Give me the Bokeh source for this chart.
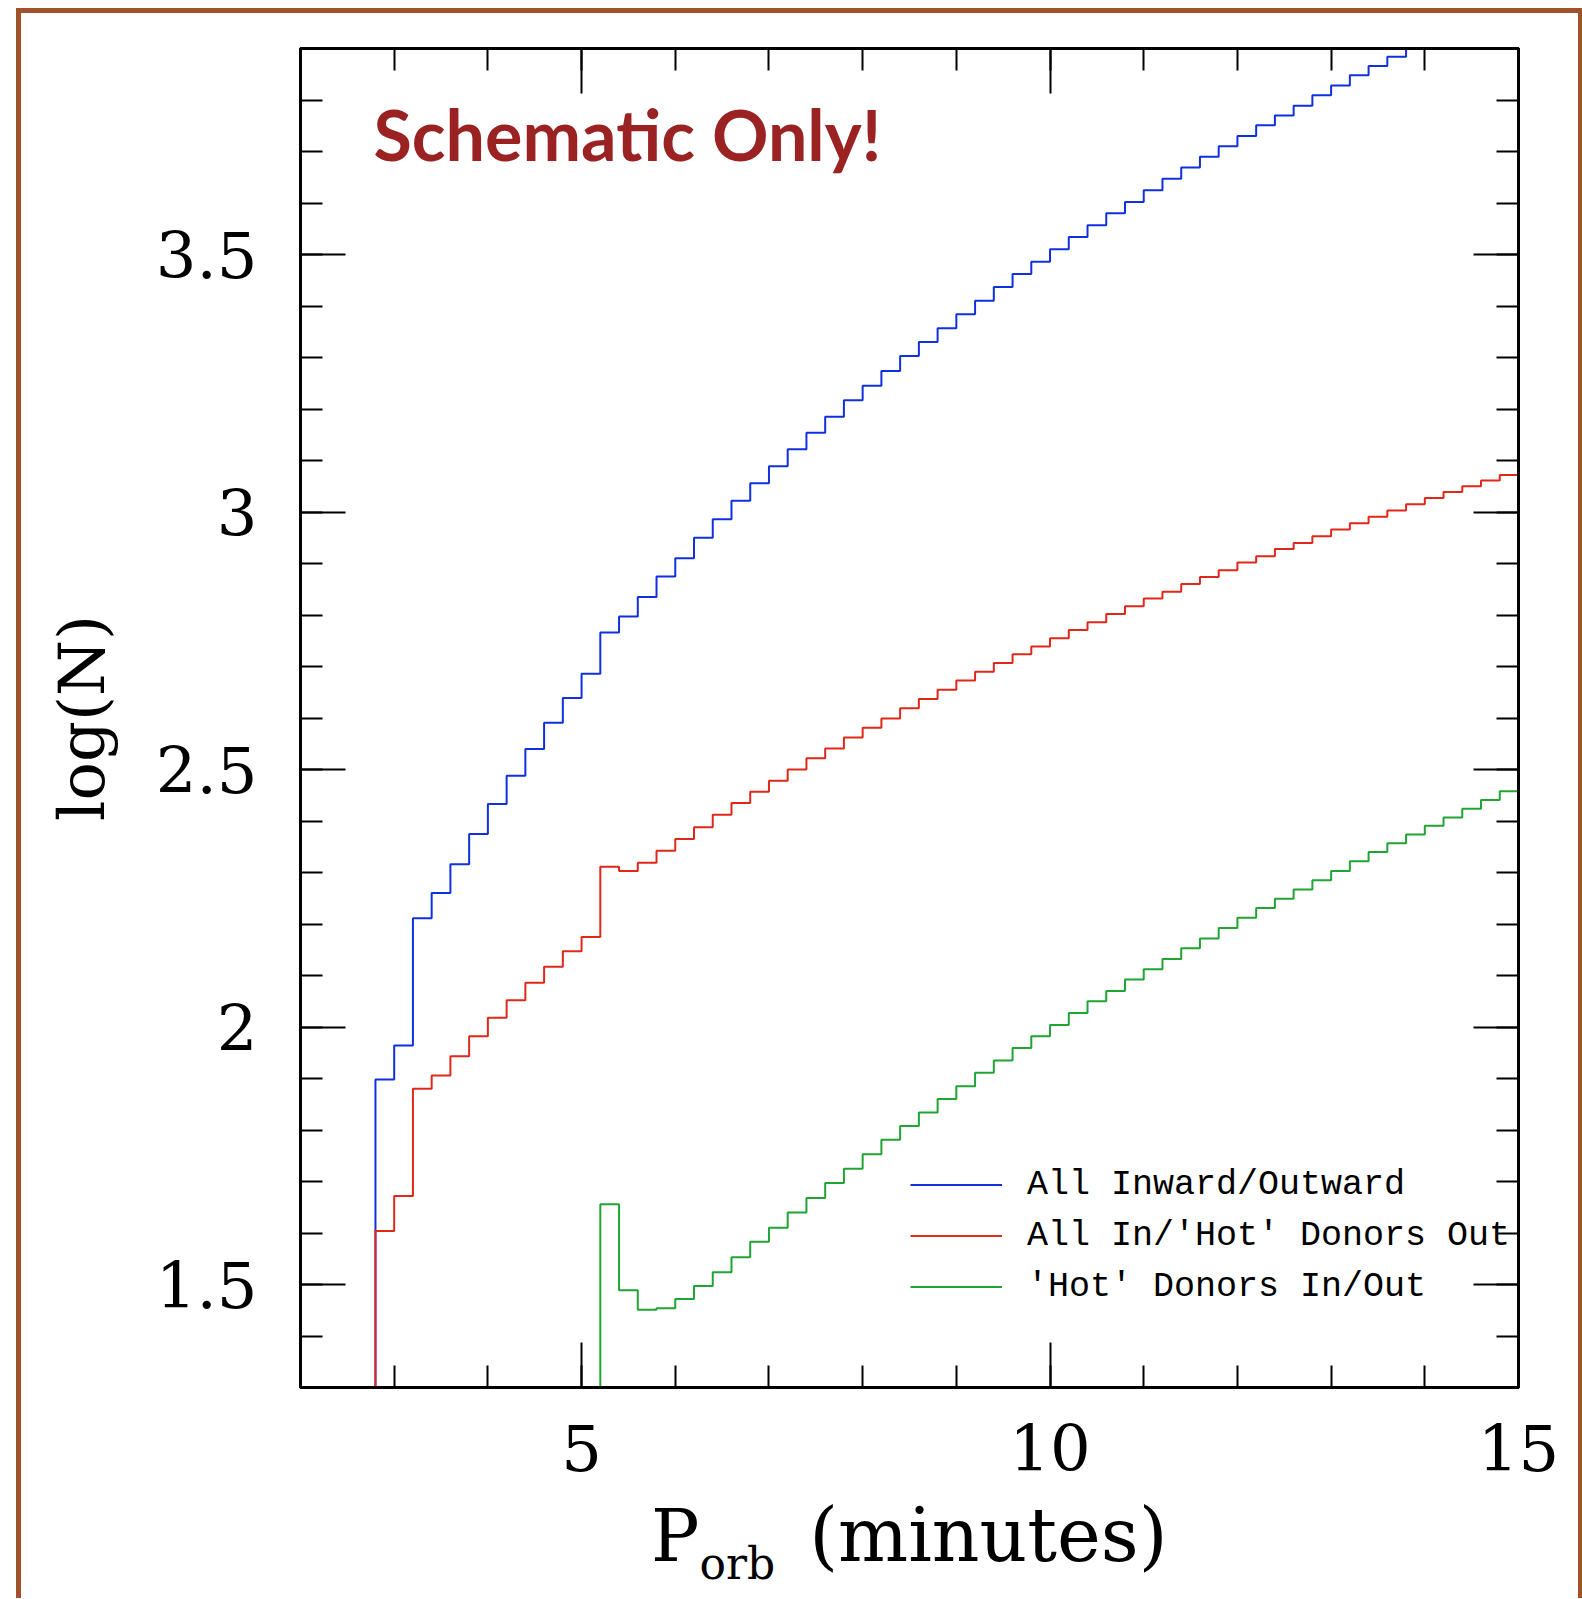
from bokeh.plotting import figure
from bokeh.layouts import column
from bokeh.models import (Range1d, LinearAxis, FixedTicker, Label, Legend, LegendItem,
                          CustomJSTickFormatter, Div)
from bokeh.embed import file_html
from bokeh.resources import INLINE

# ---------------- data ----------------
bin_width = 0.2  # minutes

blue_start = 2.8
blue_logN = [1.898, 1.964, 2.211, 2.260, 2.316, 2.375, 2.433, 2.488, 2.540, 2.591,
             2.639, 2.686, 2.766, 2.797, 2.835, 2.875, 2.910, 2.950, 2.986, 3.022,
             3.056, 3.089, 3.122, 3.154, 3.185, 3.217, 3.245, 3.274, 3.303, 3.330,
             3.357, 3.384, 3.410, 3.437, 3.462, 3.486, 3.510, 3.534, 3.557, 3.580,
             3.602, 3.625, 3.647, 3.669, 3.690, 3.710, 3.730, 3.751, 3.770, 3.789,
             3.809, 3.828, 3.848, 3.866, 3.884, 3.903]

red_start = 2.8
red_logN = [1.604, 1.672, 1.880, 1.906, 1.943, 1.982, 2.018, 2.052, 2.086, 2.117,
            2.147, 2.175, 2.311, 2.303, 2.319, 2.342, 2.365, 2.388, 2.412, 2.435,
            2.457, 2.478, 2.500, 2.522, 2.541, 2.562, 2.581, 2.599, 2.619, 2.637,
            2.655, 2.673, 2.690, 2.707, 2.724, 2.739, 2.755, 2.771, 2.786, 2.802,
            2.817, 2.832, 2.845, 2.860, 2.874, 2.887, 2.902, 2.914, 2.928, 2.940,
            2.953, 2.966, 2.978, 2.991, 3.003, 3.015, 3.027, 3.039, 3.050, 3.061,
            3.072]

green_start = 5.2
green_logN = [1.656, 1.489, 1.451, 1.454, 1.472, 1.497, 1.524, 1.553, 1.583, 1.610,
              1.640, 1.668, 1.697, 1.725, 1.753, 1.781, 1.808, 1.834, 1.860, 1.885,
              1.911, 1.935, 1.959, 1.982, 2.004, 2.027, 2.050, 2.070, 2.092, 2.112,
              2.132, 2.153, 2.172, 2.192, 2.212, 2.231, 2.249, 2.267, 2.285, 2.303,
              2.322, 2.340, 2.357, 2.374, 2.391, 2.407, 2.424, 2.441, 2.458]

series_names = ["All Inward/Outward", "All In/'Hot' Donors Out", "'Hot' Donors In/Out"]

x_major_ticks = [5, 10, 15]
x_major_labels = ["5", "10", "15"]
x_minor_ticks = [2, 3, 4, 5, 6, 7, 8, 9, 10, 11, 12, 13, 14, 15]
y_major_ticks = [1.5, 2, 2.5, 3, 3.5]
y_major_labels = ["1.5", "2", "2.5", "3", "3.5"]
y_minor_ticks = [1.3, 1.4, 1.5, 1.6, 1.7, 1.8, 1.9, 2.0, 2.1, 2.2, 2.3, 2.4, 2.5,
                 2.6, 2.7, 2.8, 2.9, 3.0, 3.1, 3.2, 3.3, 3.4, 3.5, 3.6, 3.7, 3.8, 3.9]

X_MIN, X_MAX = 2, 15
Y_MIN, Y_MAX = 1.3, 3.9

x_title_main = "P"
x_title_sub = "orb"
x_title_rest = "(minutes)"
y_title = "log(N)"
note_text = "Schematic Only!"

# ---------------- helpers ----------------
def hist_path(start, width, values, floor):
    xs, ys = [start], [floor]
    for i, v in enumerate(values):
        x0 = start + i * width
        xs += [x0, x0 + width]
        ys += [v, v]
    return xs, ys

SERIF = "DejaVu Serif"
PAGE_W = 1557

p = figure(width=PAGE_W, height=1488,
           x_range=Range1d(X_MIN, X_MAX), y_range=Range1d(Y_MIN, Y_MAX),
           x_axis_type=None, y_axis_type=None,
           output_backend="svg", toolbar_location=None,
           min_border_left=279, min_border_right=60,
           min_border_top=35, min_border_bottom=114,
           background_fill_color="white", border_fill_color="white")
p.grid.visible = False
p.outline_line_color = "black"
p.outline_line_width = 3


def style_axis(ax):
    ax.axis_line_width = 3
    ax.axis_line_color = "black"
    ax.major_tick_in = 45
    ax.major_tick_out = 0
    ax.minor_tick_in = 22
    ax.minor_tick_out = 0
    ax.major_tick_line_width = 2
    ax.minor_tick_line_width = 2
    ax.major_tick_line_color = "black"
    ax.minor_tick_line_color = "black"


xticker = FixedTicker(ticks=x_major_ticks, minor_ticks=x_minor_ticks)
yticker = FixedTicker(ticks=y_major_ticks, minor_ticks=y_minor_ticks)
blank = CustomJSTickFormatter(code="return ''")

xb = LinearAxis(ticker=xticker)
style_axis(xb)
xb.major_label_overrides = dict(zip(x_major_ticks, x_major_labels))
xb.major_label_text_font = SERIF
xb.major_label_text_font_size = "64px"
xb.major_label_text_color = "black"
xb.major_label_standoff = 36
p.add_layout(xb, "below")

xt = LinearAxis(ticker=xticker, formatter=blank)
style_axis(xt)
xt.major_label_standoff = 0
p.add_layout(xt, "above")

yl = LinearAxis(ticker=yticker)
style_axis(yl)
yl.major_label_overrides = dict(zip(y_major_ticks, y_major_labels))
yl.major_label_text_font = SERIF
yl.major_label_text_font_size = "64px"
yl.major_label_text_color = "black"
yl.major_label_standoff = 43
yl.axis_label = y_title
yl.axis_label_text_font = SERIF
yl.axis_label_text_font_size = "64px"
yl.axis_label_text_font_style = "normal"
yl.axis_label_text_color = "black"
yl.axis_label_standoff = 34
p.add_layout(yl, "left")

yr = LinearAxis(ticker=yticker, formatter=blank)
style_axis(yr)
yr.major_label_standoff = 0
p.add_layout(yr, "right")

# ---------------- histograms ----------------
colors = ["#1030e0", "#e0281a", "#20a535"]
renderers = []
for start, vals, col in [(blue_start, blue_logN, colors[0]),
                         (red_start, red_logN, colors[1]),
                         (green_start, green_logN, colors[2])]:
    xs, ys = hist_path(start, bin_width, vals, Y_MIN - 1)
    r = p.line(xs, ys, line_color=col, line_width=2)
    renderers.append(r)

legend = Legend(items=[LegendItem(label=n, renderers=[r]) for n, r in zip(series_names, renderers)],
                location=(610, 75), orientation="vertical",
                glyph_width=92, glyph_height=51, label_height=51, label_standoff=25,
                spacing=0, padding=0, margin=0,
                label_text_font="Liberation Mono", label_text_font_size="35px",
                label_text_color="black",
                border_line_color=None, background_fill_alpha=0)
p.add_layout(legend, "center")

# ---------------- texts ----------------
p.add_layout(Label(x=2.78, y=Y_MAX, y_offset=-85, text=note_text,
                   text_font="Lato", text_font_style="bold", text_font_size="70px",
                   text_color="#9b2222", text_baseline="alphabetic", text_align="left"))

x_title = Div(
    text=('<div style="white-space:nowrap;font-family:\'DejaVu Serif\';font-size:72px;'
          'line-height:68px;padding-left:630px;color:black;margin:0">'
          f'<span>{x_title_main}</span>'
          f'<span style="font-size:44px;position:relative;top:18px;margin-left:0px">{x_title_sub}</span>'
          f'<span style="margin-left:34px;font-size:74px">{x_title_rest}</span></div>'),
    width=PAGE_W, height=97, margin=0,
    styles={"font-family": "DejaVu Serif", "font-size": "72px", "line-height": "68px",
            "color": "black"})

root = column(p, x_title, spacing=0,
              styles={"margin-left": "16px", "margin-top": "8px",
                      "border-left": "5px solid #a0522d", "border-top": "5px solid #a0522d",
                      "border-right": "4px solid #a0522d",
                      "background-color": "white", "box-sizing": "content-box"})

html = file_html(root, INLINE)
html = html.replace("<body>", '<body style="margin:0;background:#b3a08a;">', 1)
open("out.html", "w").write(html)
